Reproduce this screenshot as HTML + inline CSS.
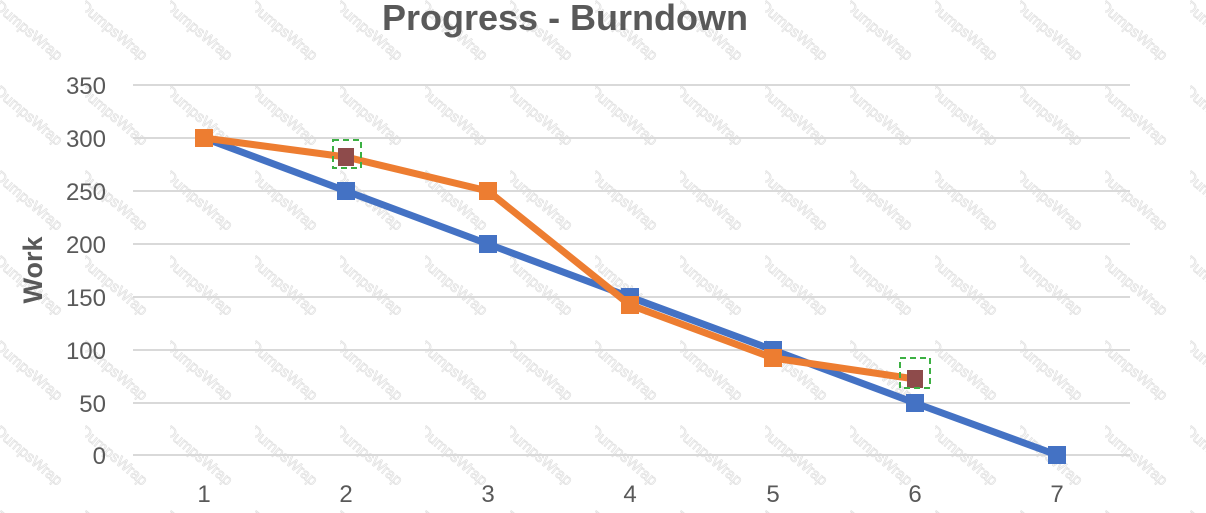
<!DOCTYPE html>
<html><head><meta charset="utf-8"><style>
html,body{margin:0;padding:0;background:#fff;}
svg{display:block;font-family:"Liberation Sans",sans-serif;}
</style></head><body>
<svg width="1206" height="513" viewBox="0 0 1206 513" xmlns="http://www.w3.org/2000/svg">
<defs>
<pattern id="wm" width="85" height="85" patternUnits="userSpaceOnUse">
<text x="0" y="10" transform="rotate(40)" font-size="15" fill="none" stroke="#e2e2e2" stroke-width="0.8">DumpsWrap</text>
</pattern>
</defs>
<rect width="1206" height="513" fill="#fff"/>
<rect width="1206" height="513" fill="url(#wm)"/>
<text x="565" y="30" text-anchor="middle" font-size="36" font-weight="bold" fill="#595959">Progress - Burndown</text>
<g stroke="#d9d9d9" stroke-width="2">
<line x1="133" x2="1130" y1="85" y2="85"/>
<line x1="133" x2="1130" y1="138" y2="138"/>
<line x1="133" x2="1130" y1="191" y2="191"/>
<line x1="133" x2="1130" y1="244" y2="244"/>
<line x1="133" x2="1130" y1="297" y2="297"/>
<line x1="133" x2="1130" y1="350" y2="350"/>
<line x1="133" x2="1130" y1="403" y2="403"/>
<line x1="133" x2="1130" y1="455" y2="455"/>
</g>
<g font-size="24" fill="#595959" text-anchor="end">
<text x="106" y="94">350</text><text x="106" y="147">300</text><text x="106" y="200">250</text>
<text x="106" y="253">200</text><text x="106" y="306">150</text><text x="106" y="359">100</text>
<text x="106" y="412">50</text><text x="106" y="464">0</text>
</g>
<g font-size="24" fill="#595959" text-anchor="middle">
<text x="204" y="502">1</text><text x="346" y="502">2</text><text x="488" y="502">3</text>
<text x="630" y="502">4</text><text x="773" y="502">5</text><text x="915" y="502">6</text><text x="1057" y="502">7</text>
</g>
<text transform="translate(42,270) rotate(-90)" text-anchor="middle" font-size="27" font-weight="bold" fill="#595959">Work</text>
<polyline points="204,138 346,191 488,244 630,297 773,350 915,403 1057,455" fill="none" stroke="#4472c4" stroke-width="7" stroke-linejoin="round"/>
<g fill="#4472c4">
<rect x="195" y="129" width="18" height="18"/><rect x="337" y="182" width="18" height="18"/><rect x="479" y="235" width="18" height="18"/>
<rect x="621" y="288" width="18" height="18"/><rect x="764" y="341" width="18" height="18"/><rect x="906" y="394" width="18" height="18"/><rect x="1048" y="446" width="18" height="18"/>
</g>
<polyline points="204,138 346,157 488,191 630,305 773,358 915,379" fill="none" stroke="#ed7d31" stroke-width="7" stroke-linejoin="round"/>
<g fill="#ed7d31">
<rect x="195" y="129" width="18" height="18"/><rect x="479" y="182" width="18" height="18"/>
<rect x="621" y="296" width="18" height="18"/><rect x="764" y="349" width="18" height="18"/>
</g>
<g fill="#8e4b4b"><rect x="338" y="148" width="16" height="18"/><rect x="907" y="370" width="16" height="18"/></g>
<g fill="none" stroke="#3cb043" stroke-width="2" stroke-dasharray="6,4">
<rect x="333" y="140" width="28" height="28"/><rect x="900" y="358" width="30" height="30"/>
</g>
</svg>
</body></html>
